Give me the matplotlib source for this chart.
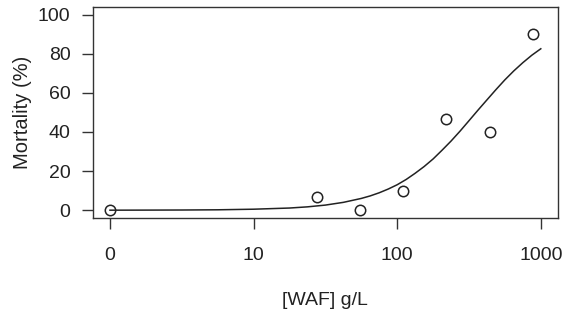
import matplotlib.pyplot as plt

# observed mortality per WAF concentration (0 is drawn at 1 on the log axis)
conc = [0, 27.5, 55, 110, 220, 440, 880]
mortality = [0, 6.7, 0, 10, 46.7, 40, 90]

# fitted curve
curve_conc = [1, 1.78, 3.16, 5.62, 10, 17.8, 23.7, 31.6, 42.2, 56.2, 64.9,
              75, 86.6, 100, 115.5, 133, 154, 178, 205, 237, 274, 316, 365,
              422, 487, 562, 649, 750, 866, 1000]
curve_mort = [0.0, 0.04, 0.09, 0.2, 0.5, 1.1, 1.7, 2.6, 4.0, 6.0, 7.3,
              8.9, 10.8, 13.0, 15.7, 18.8, 22.3, 26.2, 30.6, 35.3, 40.4, 45.7, 51.1,
              56.4, 61.6, 66.6, 71.2, 75.4, 79.2, 82.5]

xticks = [1, 10, 100, 1000]
xticklabels = ['0', '10', '100', '1000']
yticks = [0, 20, 40, 60, 80, 100]

plt.rcParams['font.family'] = ['Liberation Sans', 'DejaVu Sans']

fig = plt.figure(figsize=(5.64, 3.27), dpi=100)
ax = fig.add_axes([0.1644, 0.3333, 0.8250, 0.6462])

xplot = [c if c > 0 else 1 for c in conc]
ax.plot(curve_conc, curve_mort, color='#222222', lw=1.1)
ax.plot(xplot, mortality, 'o', mfc='none', mec='#222222', mew=1.1, ms=7.5)

ax.set_xscale('log')
ax.set_xlim(10 ** -0.12, 10 ** 3.12)
ax.set_ylim(-4, 104)
ax.set_xticks(xticks)
ax.set_xticklabels(xticklabels)
ax.minorticks_off()
ax.set_yticks(yticks)

for s in ax.spines.values():
    s.set_color('#333333')
    s.set_linewidth(1.0)
ax.tick_params(axis='both', length=8, width=1.0, color='#333333',
               labelsize=14, labelcolor='#222222')
ax.tick_params(axis='x', pad=13)
ax.tick_params(axis='y', pad=8)

ax.set_xlabel('[WAF] g/L', fontsize=14, color='#222222', labelpad=20)
ax.set_ylabel('Mortality (%)', fontsize=14.5, color='#222222', labelpad=4)

plt.savefig('out.png', dpi=100)
